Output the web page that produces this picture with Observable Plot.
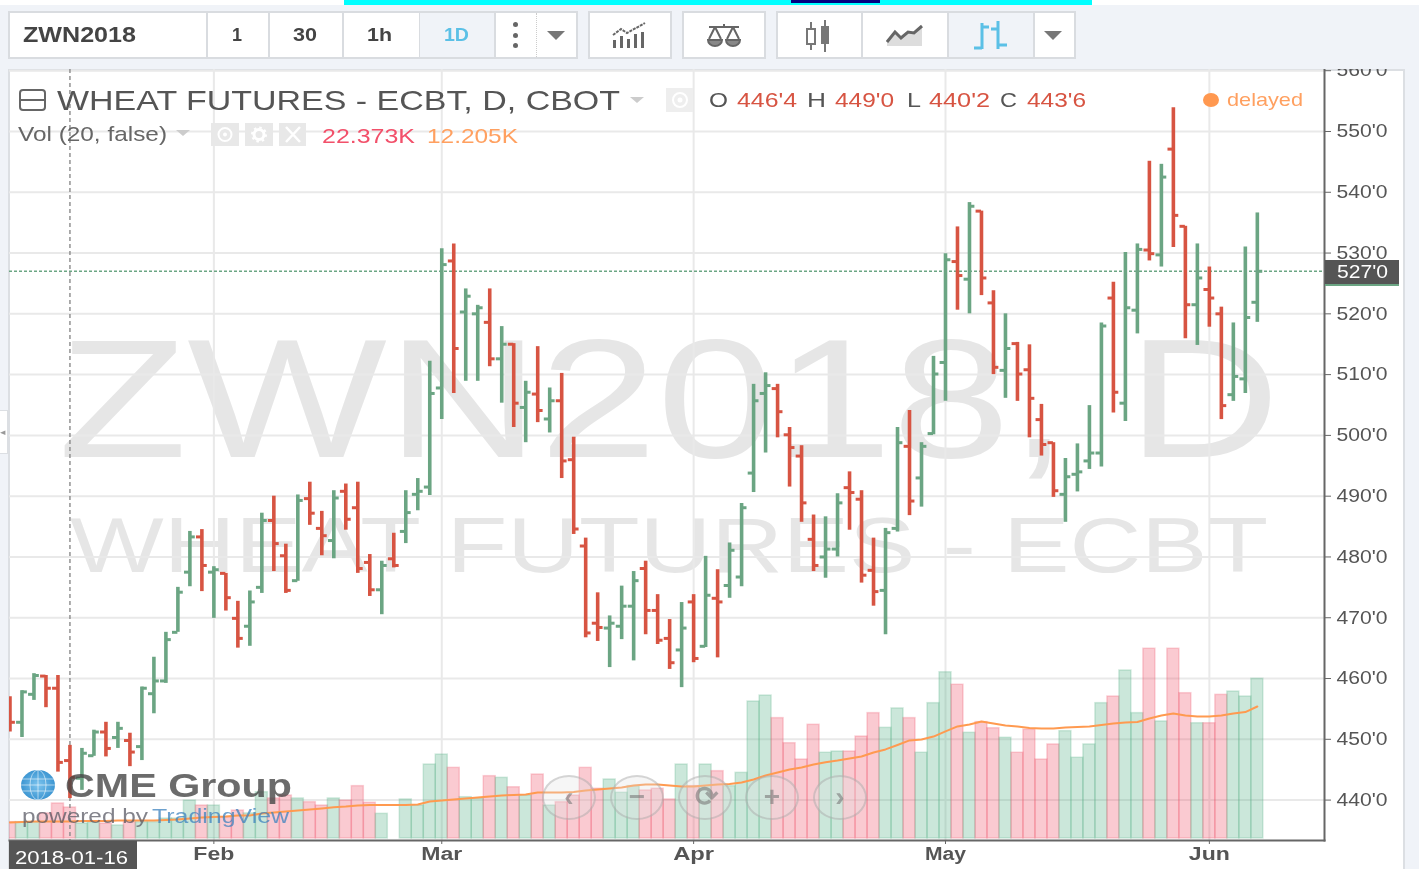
<!DOCTYPE html>
<html><head><meta charset="utf-8">
<script src="https://cdn.jsdelivr.net/npm/d3@7"></script>
<script src="https://cdn.jsdelivr.net/npm/@observablehq/plot@0.6"></script>
<style>
html,body{margin:0;padding:0;background:#f0f3f8;overflow:hidden}
#root{position:relative;width:1419px;height:869px;overflow:hidden;font-family:"Liberation Sans",Arial,sans-serif;filter:blur(.5px)}
.abs{position:absolute}
.t{position:absolute;white-space:nowrap;transform-origin:left center;line-height:1}
</style></head><body><div id="root"></div>
<script>
const highs=[457.0,458.0,460.8,460.5,460.5,449.0,448.5,451.5,452.8,452.8,451.0,458.6,463.5,467.6,475.0,484.2,484.5,478.4,477.3,472.7,474.4,487.2,490.0,482.1,490.2,492.3,487.5,490.9,492.0,492.3,480.4,479.3,483.9,490.9,492.9,512.2,530.7,531.5,524.1,521.4,524.1,517.9,515.1,508.9,514.6,507.8,510.2,499.7,483.1,474.1,470.3,475.2,477.6,479.3,473.8,469.7,472.5,473.8,480.1,477.9,482.3,488.8,508.4,510.3,508.4,501.3,498.3,486.9,486.6,490.4,494.0,490.9,483.1,484.7,501.3,504.1,498.8,513.0,529.9,534.3,538.3,536.9,523.8,520.0,515.3,514.9,505.1,498.8,496.2,498.6,504.9,518.5,525.2,530.1,531.5,545.1,544.6,553.9,534.4,531.5,527.7,521.1,518.5,531.0,536.6];
const lows=[451.2,450.3,456.4,455.2,444.6,440.25,441.6,447.2,447.1,448.5,445.5,446.5,454.2,459.2,467.6,475.1,474.3,469.9,471.1,465.0,465.3,474.0,477.6,474.0,476.0,485.2,480.2,479.7,484.4,477.3,473.5,470.5,478.2,482.2,487.6,490.1,502.6,506.9,508.9,508.9,511.3,505.3,501.3,498.8,502.1,500.4,492.9,483.7,466.7,466.1,461.8,466.4,462.9,467.2,465.6,461.5,458.5,462.6,465.1,463.4,473.2,475.1,490.6,497.1,499.6,491.5,485.7,477.6,476.5,480.0,484.4,475.7,471.9,467.2,484.1,486.8,488.2,500.1,505.6,520.6,520.0,523.0,510.0,506.1,505.6,499.6,496.6,489.8,485.7,490.7,494.4,494.8,503.7,502.3,516.7,528.7,527.7,530.9,515.9,514.8,517.8,502.6,505.6,506.9,518.6];
const opens=[456.4,452.8,457.4,460.4,458.4,446.5,443.6,447.3,451.2,450.3,449.8,448.8,457.5,459.6,467.6,477.5,483.3,477.5,477.3,469.9,468.6,475.0,486.0,480.2,476.1,489.6,484.7,482.7,490.8,488.1,479.1,474.6,479.7,484.2,490.3,491.5,507.8,528.7,520.3,520.0,518.6,512.6,515.0,504.6,506.8,502.7,505.7,496.0,481.8,469.1,468.3,468.6,471.9,478.1,471.2,466.6,464.7,472.6,465.3,473.2,475.3,476.7,493.8,506.9,507.7,500.1,496.6,482.9,480.0,481.3,491.4,489.5,477.8,474.5,484.7,498.2,493.0,500.3,512.0,528.6,525.7,536.9,521.8,510.7,515.1,510.8,502.6,498.8,490.3,493.6,495.8,497.1,522.6,505.3,520.6,530.5,529.7,547.1,534.4,521.5,524.0,520.0,506.7,509.3,521.9];
const closes=[452.8,457.8,460.5,458.4,446.2,443.75,447.7,451.2,448.5,451.8,447.9,458.4,459.6,466.4,474.2,483.3,478.6,477.9,473.3,466.6,472.6,486.0,482.2,474.5,489.3,487.2,483.5,489.7,486.2,478.1,474.6,478.6,478.6,487.3,490.8,506.9,528.1,514.3,522.9,521.0,512.6,515.0,505.3,507.1,504.1,505.7,495.8,484.6,467.5,468.4,469.1,471.9,476.1,471.2,466.3,462.6,468.3,463.3,473.7,472.6,481.1,488.1,505.7,508.2,503.9,498.0,488.9,478.6,481.3,488.9,490.6,477.0,474.3,484.0,498.8,489.2,498.2,510.1,528.9,526.3,537.7,525.9,511.2,514.3,510.1,506.1,498.5,490.9,493.2,494.0,497.1,518.0,507.1,521.0,530.6,529.9,542.5,536.2,521.5,525.9,522.6,504.9,509.7,519.4,527.0];
const volumes=[11.8,11.8,11.8,18.1,25.3,22.373,10.8,11.8,10.8,9.4,11.8,11.8,11.8,14.4,14.4,27.4,23.8,23.8,15.4,20.2,18.1,33.4,28.9,31.0,28.9,26.2,23.8,28.9,27.4,37.8,25.8,17.8,0,28.2,23.8,53.4,60.6,51.0,29.8,28.9,45.0,43.8,37.0,31.0,46.2,23.8,26.2,31.0,51.0,35.9,42.6,33.0,37.8,34.7,35.9,28.2,53.4,37.8,53.4,48.6,37.8,47.4,98.9,103.2,86.9,68.8,57.0,82.1,61.9,62.8,62.8,73.6,90.5,79.9,93.9,86.9,61.9,97.7,120.0,111.0,76.3,84.0,79.6,72.7,61.9,78.5,57.0,67.9,77.5,58.3,67.9,97.7,102.5,121.3,90.5,137.0,84.5,137.0,104.9,83.2,83.2,103.7,106.1,102.5,115.3];
const volumeMA=[11.6,11.9,12.3,12.3,12.3,12.205,12.6,12.6,12.6,13.0,13.0,13.0,13.0,13.4,13.7,14.4,15.2,15.5,15.9,16.6,16.6,18.1,18.8,19.5,20.2,20.9,21.7,22.6,23.1,23.8,24.2,24.2,24.2,24.2,24.5,26.7,27.4,28.2,28.9,29.6,30.3,31.0,31.4,31.8,33.2,33.2,33.2,33.6,34.7,35.4,36.1,36.8,38.3,39.0,39.0,38.3,37.5,37.5,38.3,39.0,39.3,40.4,42.6,45.5,47.7,49.8,51.3,53.4,55.1,56.3,57.8,59.2,62.1,64.3,67.5,70.8,71.5,73.6,77.3,80.9,82.3,84.5,83.0,81.6,80.9,79.8,79.4,79.4,80.1,80.5,80.9,81.9,83.0,83.8,84.1,86.6,88.8,90.3,88.8,88.1,88.1,88.8,90.3,91.3,95.3];
const priceTicks=[440,450,460,470,480,490,500,510,520,530,540,550,560];
const monthTicks=[17,36,57,78,100];
const monthLabels=["Feb","Mar","Apr","May","Jun"];
const crosshairIndex=5, crosshairDate="2018-01-16", lastPrice=527;

const green="#6ba583", red="#d75442";
const root=document.getElementById("root");
const rows=highs.map((h,i)=>({i,h,l:lows[i],o:opens[i],c:closes[i],v:volumes[i],ma:volumeMA[i],col:closes[i]>=opens[i]?green:red,up:closes[i]>=opens[i]}));
const volY=d3.scaleLinear().domain([0,137]).range([433.68,464.9]);

function box(x,y,w,h,css){const d=document.createElement("div");d.className="abs";d.style.cssText=`left:${x}px;top:${y}px;width:${w}px;height:${h}px;box-sizing:border-box;${css||""}`;root.appendChild(d);return d;}
function fit(str,x0,x1,yc,size,color,css){const s=document.createElement("span");s.className="t";s.textContent=str;s.style.cssText=`left:${x0}px;top:${yc-size/2}px;font-size:${size}px;color:${color};${css||""}`;root.appendChild(s);const w=s.getBoundingClientRect().width;s.style.transform=`scaleX(${(x1-x0)/w})`;return s;}
function tri(cx,cy,w,h,c){const d=box(cx-w/2,cy-h/2,w,h,`width:0;height:0;border-left:${w/2}px solid transparent;border-right:${w/2}px solid transparent;border-top:${h}px solid ${c}`);return d;}
function icon(x,y,w,h,inner){const d=box(x,y,w,h);d.innerHTML=`<svg width="${w}" height="${h}" viewBox="0 0 ${w} ${h}" style="display:block">${inner}</svg>`;}

// page chrome
box(0,0,1419,5,"background:#fff");
box(344,0,748,5,"background:#00ffff");
box(791,0,89,3,"background:#000080");
box(8,69,1397,800,"background:#fff;border:2px solid #dcdfe3;border-bottom:none");
box(0,410,8,44,"background:#fff;border:1px solid #dcdfe3;border-left:none");
fit("◂",0,6,432,9,"#999");

// watermark
fit("ZWN2018, D",58,1280,399,168,"#e6e6e6");
fit("WHEAT FUTURES - ECBT",70,1268,545,78,"#e6e6e6");

// chart
const plot=Plot.plot({
  width:1419,height:800,marginLeft:9,marginRight:95,marginTop:0,marginBottom:29,
  x:{domain:[-0.04,109.6],axis:null},
  y:{domain:[433.35,560.2],axis:null},
  style:{background:"transparent",fontFamily:"'Liberation Sans',Arial,sans-serif",overflow:"hidden",position:"absolute",left:"0px",top:"69px"},
  marks:[
    Plot.gridX(monthTicks,{stroke:"#e9e9e9",strokeOpacity:1,strokeWidth:2}),
    Plot.gridY(priceTicks,{stroke:"#e9e9e9",strokeOpacity:1,strokeWidth:2}),
    Plot.rect(rows.filter(d=>d.v>0),{x1:d=>d.i-.5,x2:d=>d.i+.5,y1:()=>volY(0),y2:d=>volY(d.v),
      fill:d=>d.up?"#53b184":"#f04f68",fillOpacity:.3,stroke:d=>d.up?"#53b184":"#f04f68",strokeOpacity:.25,strokeWidth:1.5,clip:true}),
    Plot.line(rows,{x:"i",y:d=>volY(d.ma),stroke:"#ff9a50",strokeWidth:2,clip:true}),
    Plot.ruleX([crosshairIndex],{stroke:"#8a8a8a",strokeWidth:1.4,strokeDasharray:"4 3"}),
    Plot.ruleY([lastPrice],{stroke:green,strokeWidth:1.6,strokeDasharray:"3 2"}),
    Plot.ruleX(rows,{x:"i",y1:"l",y2:"h",stroke:"col",strokeWidth:3.6,clip:true}),
    Plot.ruleY(rows,{x1:d=>d.i-.45,x2:"i",y:"o",stroke:"col",strokeWidth:3,clip:true}),
    Plot.ruleY(rows,{x1:"i",x2:d=>d.i+.45,y:"c",stroke:"col",strokeWidth:3,clip:true}),
    Plot.frame({anchor:"right",stroke:"#666",strokeWidth:2}),
    Plot.frame({anchor:"bottom",stroke:"#666",strokeWidth:2}),
    Plot.axisY(priceTicks,{anchor:"right",label:null,tickSize:6,tickPadding:6,tickFormat:d=>d+"'0",fontSize:18,stroke:"#666",fill:"#555"}),
    Plot.axisX(monthTicks,{anchor:"bottom",label:null,tickSize:4,tickPadding:3,tickFormat:d=>monthLabels[monthTicks.indexOf(d)],fontSize:18,fontWeight:"bold",stroke:"#666",fill:"#555"})
  ]
});
root.appendChild(plot);
plot.querySelectorAll('g[aria-label="y-axis tick label"] text').forEach(t=>{t.setAttribute("textLength",51);t.setAttribute("lengthAdjust","spacingAndGlyphs");});
plot.querySelectorAll('g[aria-label="x-axis tick label"] text').forEach(t=>{t.setAttribute("textLength",41);t.setAttribute("lengthAdjust","spacingAndGlyphs");});

// toolbar
box(8,11,570,48,"background:#fff;border:2px solid #d9dce0");
[206,268,342,419,494].forEach(x=>box(x,11,2,48,"background:#d9dce0"));
box(536,13,1,44,"border-left:1px dotted #ccc");
box(420,13,74,44,"background:#f0f3f8");
fit("ZWN2018",23,136,35,22,"#444","font-weight:bold");
fit("1",232,242,35,18,"#444","font-weight:bold");
fit("30",293,317,35,18,"#444","font-weight:bold");
fit("1h",367,392,35,18,"#444","font-weight:bold");
fit("1D",444,469,35,18,"#5bc0e6","font-weight:bold");
[24,35,45].forEach(y=>box(513,y-2.5,5,5,"background:#666;border-radius:50%"));
tri(556,35,18,9,"#777");
box(588,11,84,48,"background:#fff;border:2px solid #d9dce0");
icon(612,22,38,28,`<g fill="#666"><rect x="1" y="18" width="3" height="8"/><rect x="8" y="14" width="3" height="12"/><rect x="15" y="17" width="3" height="9"/><rect x="22" y="12" width="3" height="14"/><rect x="29" y="10" width="3" height="16"/></g><path d="M1 13 L9 7 L15 11 L24 6 L33 1" fill="none" stroke="#666" stroke-width="2" stroke-dasharray="3 1"/>`);
box(682,11,84,48,"background:#fff;border:2px solid #d9dce0");
icon(706,22,36,28,`<g fill="none" stroke="#666" stroke-width="2"><path d="M3 5 H33 M18 2 V5 M9 5 L3 17 M9 5 L15 17 M27 5 L21 17 M27 5 L33 17"/><path d="M2 18 H16 A7 6 0 0 1 2 18 Z M20 18 H34 A7 6 0 0 1 20 18 Z" fill="#888"/></g>`);
box(776,11,300,48,"background:#fff;border:2px solid #d9dce0");
[861,947,1033].forEach(x=>box(x,11,2,48,"background:#d9dce0"));
box(949,13,84,44,"background:#f0f3f8");
icon(804,18,30,36,`<path d="M7 4 V32 M21 2 V34" stroke="#777" stroke-width="2"/><rect x="3" y="11" width="8" height="15" fill="#fff" stroke="#777" stroke-width="2"/><rect x="17" y="8" width="8" height="18" fill="#777"/>`);
icon(886,24,38,24,`<path d="M1 22 V18 L9 8 L15 14 L22 8 L28 9 L36 2 V22 Z" fill="#ddd"/><path d="M1 18 L9 8 L15 14 L22 8 L28 9 L36 2" fill="none" stroke="#666" stroke-width="3"/>`);
icon(971,19,38,32,`<g fill="none" stroke="#5bc0e6" stroke-width="3"><path d="M11 4 V30 M3 29 H11 M11 8 H18 M27 2 V30 M20 10 H27 M27 26 H36"/></g>`);
tri(1053,35,18,9,"#777");

// legend
icon(19,89,28,22,`<rect x="1" y="1" width="25" height="20" rx="3" fill="#fff" stroke="#666" stroke-width="2"/><path d="M1 11 H26" stroke="#666" stroke-width="2"/>`);
fit("WHEAT FUTURES - ECBT, D, CBOT",57,620,101,28,"#555");
tri(637,100,15,6,"#ccc");
box(666,88,27,24,"background:#eee");
icon(670,91,20,18,`<circle cx="10" cy="9" r="7" fill="none" stroke="#fff" stroke-width="2"/><circle cx="10" cy="9" r="2.5" fill="#fff"/>`);
[["O",709,728,"#555"],["446'4",737,797,red],["H",807,826,"#555"],["449'0",835,894,red],["L",907,921,"#555"],["440'2",929,990,red],["C",1000,1017,"#555"],["443'6",1027,1086,red]].forEach(a=>fit(a[0],a[1],a[2],100,20,a[3]));
box(1203,93,16,14,"background:#ff9850;border-radius:50%");
fit("delayed",1227,1303,99,19,"#ffa060");
fit("Vol (20, false)",18,167,133,21,"#666");
tri(183,133,15,6,"#ccc");
[[211,239],[245,273],[279,306]].forEach(p=>box(p[0],123,p[1]-p[0],23,"background:#e8e8e8"));
icon(215,125,20,19,`<circle cx="10" cy="9.5" r="6.5" fill="none" stroke="#fff" stroke-width="2"/><circle cx="10" cy="9.5" r="2" fill="#fff"/>`);
icon(249,125,20,19,`<circle cx="10" cy="9.5" r="5" fill="none" stroke="#fff" stroke-width="3"/><circle cx="10" cy="9.5" r="7" fill="none" stroke="#fff" stroke-width="2" stroke-dasharray="2.5 3"/>`);
icon(283,125,20,19,`<path d="M3 2 L17 17 M17 2 L3 17" stroke="#fff" stroke-width="2.5"/>`);
fit("22.373K",322,415,135,21,"#f2506a");
fit("12.205K",427,518,135,21,"#ffa060");

// last price and crosshair labels
box(1325,260,74,26,"background:#555;border-bottom:2px solid "+green);
fit(lastPrice+"'0",1337,1388,272,18,"#fff");
box(9,841,128,28,"background:#555");
fit(crosshairDate,15,128,858,18,"#fff");

// branding and navigation
icon(21,770,34,30,`<defs><radialGradient id="gl"><stop offset="0" stop-color="#7cc4ee"/><stop offset="1" stop-color="#3d96d2"/></radialGradient></defs><ellipse cx="17" cy="15" rx="17" ry="15" fill="url(#gl)"/><g fill="none" stroke="#fff" stroke-opacity=".55"><ellipse cx="17" cy="15" rx="8" ry="15"/><path d="M17 0 V30 M1 9 H33 M0 15 H34 M1 21 H33"/></g>`);
fit("CME Group",65,292,785,34,"rgba(70,70,70,.8)","font-weight:bold");
fit("powered by ",22,148,816,20,"rgba(90,90,100,.75)");
fit("TradingView",152,289,816,20,"rgba(60,130,190,.75)");
[[569,"‹"],[637,"−"],[705,"⟳"],[772,"+"],[840,"›"]].forEach(a=>{
  box(a[0]-27,775,54,45,"border-radius:50%;background:rgba(225,225,225,.3);border:2px solid rgba(150,150,150,.35)");
  const s=document.createElement("span");s.className="t";s.textContent=a[1];
  s.style.cssText=`left:${a[0]-10}px;top:783px;width:20px;text-align:center;font-size:28px;color:rgba(120,120,120,.6);font-weight:bold`;
  root.appendChild(s);
});
</script></body></html>
